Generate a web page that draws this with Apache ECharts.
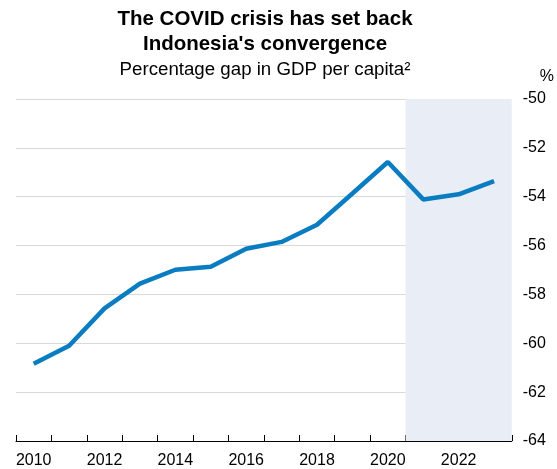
<!DOCTYPE html>
<html>
<head>
<meta charset="utf-8">
<script src="https://cdn.jsdelivr.net/npm/echarts@6/dist/echarts.min.js"></script>
<style>html,body{margin:0;padding:0;background:#fff}#c{width:557px;height:469px}</style>
</head>
<body>
<div id="c"></div>
<script>
const years = ['2010','2011','2012','2013','2014','2015','2016','2017','2018','2019','2020','2021','2022','2023'];
const gap = [-60.84, -60.1, -58.57, -57.56, -56.99, -56.87, -56.13, -55.85, -55.15, -53.87, -52.58, -54.11, -53.9, -53.36];
const shadeFrom = 2020.5;
const shadeTo = 2023.5;
const yTicks = {min: -64, max: -50, interval: 2};
const titleText = "The COVID crisis has set back\nIndonesia's convergence";
const subText = "Percentage gap in GDP per capita²";

const chart = echarts.init(document.getElementById('c'), null, {renderer: 'canvas'});
chart.setOption({
  animation: false,
  textStyle: {fontFamily: 'Liberation Sans, Arial, sans-serif'},
  title: {
    text: titleText,
    subtext: subText,
    left: 260,
    textAlign: 'center',
    top: 2,
    itemGap: 3,
    textStyle: {fontSize: 20.5, fontWeight: 'bold', color: '#000', lineHeight: 25, fontFamily: 'Liberation Sans, Arial, sans-serif'},
    subtextStyle: {fontSize: 18.7, color: '#000', fontFamily: 'Liberation Sans, Arial, sans-serif'}
  },
  grid: {left: 16, right: 45, top: 99, bottom: 28, containLabel: false},
  xAxis: [{
    type: 'category',
    data: years,
    boundaryGap: true,
    axisLine: {lineStyle: {color: '#000', width: 1}},
    axisTick: {show: true, interval: 0, inside: true, length: 6, lineStyle: {color: '#000'}},
    axisLabel: {interval: 1, color: '#000', fontSize: 16, margin: 12},
    splitLine: {show: false}
  }, {
    type: 'value',
    min: 2009.5, max: 2023.5,
    show: false
  }],
  yAxis: {
    type: 'value',
    position: 'right',
    min: yTicks.min, max: yTicks.max, interval: yTicks.interval,
    name: '%',
    nameLocation: 'end',
    nameGap: 14,
    nameTextStyle: {color: '#000', fontSize: 16, align: 'left', padding: [0, 0, 0, 28]},
    axisLine: {show: false},
    axisTick: {show: false},
    axisLabel: {color: '#000', fontSize: 16, margin: 11},
    splitLine: {lineStyle: {color: '#d9d9d9', width: 1}}
  },
  series: [{
    type: 'line',
    xAxisIndex: 1,
    data: [],
    silent: true,
    markArea: {
      silent: true,
      itemStyle: {color: '#e9edf6'},
      data: [[{xAxis: shadeFrom, yAxis: yTicks.max}, {xAxis: shadeTo, yAxis: yTicks.min}]]
    }
  }, {
    type: 'line',
    xAxisIndex: 0,
    data: gap,
    symbol: 'none',
    lineStyle: {color: '#0a7cc1', width: 4.5},
    z: 5
  }]
});
</script>
</body>
</html>
